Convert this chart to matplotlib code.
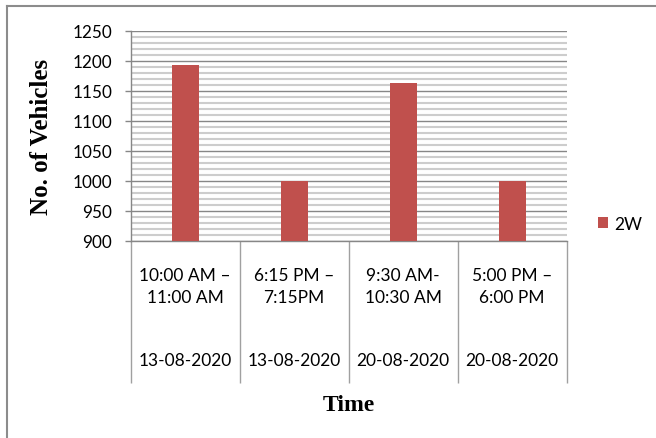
import matplotlib
matplotlib.use("Agg")
import matplotlib.pyplot as plt
from matplotlib.lines import Line2D
from matplotlib.ticker import MultipleLocator, FixedLocator

time_slots = ["10:00 AM \u2013\n11:00 AM", "6:15 PM \u2013\n7:15PM",
              "9:30 AM-\n10:30 AM", "5:00 PM \u2013\n6:00 PM"]
dates = ["13-08-2020", "13-08-2020", "20-08-2020", "20-08-2020"]
two_wheelers = [1192, 999, 1163, 999]

SANS = "Lato"
SERIF = "Liberation Serif"
grey = "#878787"

fig = plt.figure(figsize=(6.56, 4.39), dpi=100)
ax = fig.add_axes([0.1992, 0.4494, 0.6646, 0.4784])

x = range(len(two_wheelers))
ax.bar(x, two_wheelers, width=0.25, color="#C0504D", label="2W", zorder=3)

ax.set_ylim(900, 1250)
ax.set_xlim(-0.5, len(two_wheelers) - 0.5)
ax.yaxis.set_major_locator(MultipleLocator(50))
ax.yaxis.set_minor_locator(MultipleLocator(10))
ax.grid(axis="y", which="major", color=grey, lw=1.0, zorder=1)
ax.grid(axis="y", which="minor", color="#cdcdcd", lw=1.5, zorder=0)

for side in ("top", "right"):
    ax.spines[side].set_visible(False)
for side in ("left", "bottom"):
    ax.spines[side].set_color(grey)
    ax.spines[side].set_linewidth(1.0)

ax.tick_params(axis="y", which="major", length=4.3, width=1, color=grey,
               pad=9, labelsize=12.3)
ax.tick_params(axis="y", which="minor", length=0)
for lab in ax.get_yticklabels():
    lab.set_fontfamily(SANS)

# category ticks: time slots under each bar, long separators between them
ax.set_xticks(list(x))
ax.set_xticklabels(time_slots, fontfamily=SANS, fontsize=12.5, linespacing=1.45)
ax.tick_params(axis="x", which="major", length=0, pad=19)
ax.xaxis.set_minor_locator(FixedLocator([i - 0.5 for i in range(len(x) + 1)]))
ax.tick_params(axis="x", which="minor", length=102, width=1, color="#a0a0a0")

# dates on a second row
sec = ax.secondary_xaxis("bottom")
sec.set_xticks(list(x))
sec.set_xticklabels(dates, fontfamily=SANS, fontsize=12.5)
sec.tick_params(length=0, pad=80)
sec.spines["bottom"].set_visible(False)

ax.set_xlabel("Time", fontfamily=SERIF, fontweight="bold", fontsize=17)
ax.xaxis.set_label_coords(0.5, -0.73)
ax.set_ylabel("No. of Vehicles", fontfamily=SERIF, fontweight="bold", fontsize=18)
ax.yaxis.set_label_coords(-0.178, 0.5)

fig.legend(loc="center left", bbox_to_anchor=(0.9116, 0.4875), frameon=False,
           borderpad=0, borderaxespad=0, handlelength=0.6, handleheight=0.6,
           handletextpad=0.35, prop={"family": SANS, "size": 12.5})

# outer chart border (top and left edges)
fig.add_artist(Line2D([7 / 656, 1.0], [1 - 7 / 439, 1 - 7 / 439],
                      transform=fig.transFigure, color="#8c8c8c", lw=1.5))
fig.add_artist(Line2D([7 / 656, 7 / 656], [0.0, 1 - 7 / 439],
                      transform=fig.transFigure, color="#8c8c8c", lw=1.5))

fig.savefig("out.png", dpi=100)
